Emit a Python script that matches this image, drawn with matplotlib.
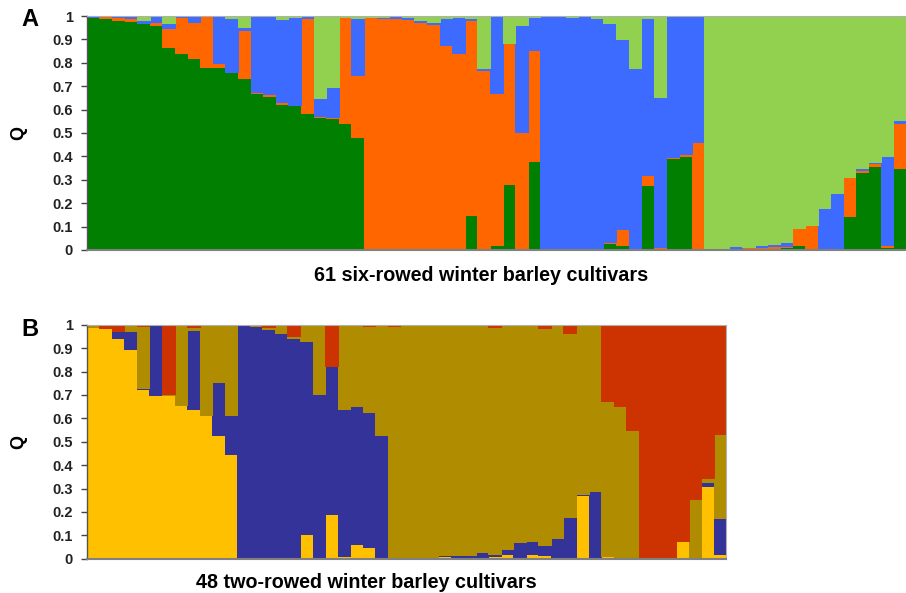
import numpy as np
import matplotlib
matplotlib.use("Agg")
import matplotlib.pyplot as plt

plt.rcParams['font.family'] = ['Liberation Sans', 'DejaVu Sans']

# ---------------- Panel A: six-rowed (K = 4) ----------------
a_green = [0.995, 0.99, 0.985, 0.977, 0.969, 0.963, 0.866, 0.843, 0.819, 0.783,
           0.781, 0.762, 0.734, 0.67, 0.658, 0.624, 0.62, 0.584, 0.567, 0.563,
           0.541, 0.481, 0.003, 0.002, 0.003, 0.003, 0.007, 0.0, 0.003, 0.0,
           0.15, 0.0, 0.021, 0.282, 0.0, 0.382, 0.0, 0.004, 0.0, 0.009,
           0.0, 0.028, 0.021, 0.0, 0.278, 0.0, 0.392, 0.402, 0.0, 0.0,
           0.006, 0.0, 0.0, 0.0, 0.0, 0.014, 0.021, 0.0, 0.0, 0.0,
           0.145, 0.332, 0.359, 0.011, 0.352]
a_orange = [0.0, 0.01, 0.01, 0.013, 0.003, 0.01, 0.081, 0.151, 0.157, 0.217,
            0.017, 0.0, 0.207, 0.007, 0.009, 0.01, 0.0, 0.406, 0.004, 0.007,
            0.453, 0.266, 0.994, 0.99, 0.988, 0.985, 0.966, 0.966, 0.873, 0.84,
            0.833, 0.769, 0.651, 0.601, 0.506, 0.473, 0.003, 0.0, 0.01, 0.0,
            0.004, 0.007, 0.067, 0.006, 0.043, 0.011, 0.005, 0.008, 0.463, 0.003,
            0.0, 0.006, 0.011, 0.014, 0.017, 0.003, 0.071, 0.107, 0.003, 0.0,
            0.168, 0.01, 0.014, 0.01, 0.192]
a_blue = [0.005, 0.0, 0.005, 0.01, 0.011, 0.025, 0.024, 0.006, 0.024, 0.0,
          0.202, 0.228, 0.014, 0.323, 0.333, 0.352, 0.375, 0.01, 0.08, 0.128,
          0.0, 0.246, 0.0, 0.005, 0.009, 0.006, 0.01, 0.007, 0.114, 0.157,
          0.008, 0.007, 0.328, 0.0, 0.456, 0.14, 0.997, 0.996, 0.987, 0.991,
          0.986, 0.933, 0.812, 0.77, 0.669, 0.642, 0.603, 0.59, 0.537, 0.0,
          0.0, 0.011, 0.003, 0.006, 0.007, 0.016, 0.0, 0.0, 0.175, 0.245,
          0.0, 0.007, 0.004, 0.38, 0.011]
a_lightgreen = [0.0, 0.0, 0.0, 0.0, 0.017, 0.002, 0.029, 0.0, 0.0, 0.0,
                0.0, 0.01, 0.045, 0.0, 0.0, 0.014, 0.005, 0.0, 0.349, 0.302,
                0.006, 0.007, 0.003, 0.003, 0.0, 0.006, 0.017, 0.027, 0.01, 0.003,
                0.009, 0.224, 0.0, 0.117, 0.038, 0.005, 0.0, 0.0, 0.003, 0.0,
                0.01, 0.032, 0.1, 0.224, 0.01, 0.347, 0.0, 0.0, 0.0, 0.997,
                0.994, 0.983, 0.986, 0.98, 0.976, 0.967, 0.908, 0.893, 0.822, 0.755,
                0.687, 0.651, 0.623, 0.599, 0.445]

# ---------------- Panel B: two-rowed (K = 4) ----------------
b_yellow = [0.989, 0.986, 0.943, 0.897, 0.724, 0.698, 0.701, 0.658, 0.641, 0.613,
            0.527, 0.447, 0.0, 0.006, 0.0, 0.0, 0.0, 0.105, 0.0, 0.191,
            0.01, 0.064, 0.048, 0.0, 0.0, 0.0, 0.0, 0.0, 0.01, 0.0,
            0.0, 0.003, 0.01, 0.02, 0.006, 0.02, 0.017, 0.006, 0.0, 0.274,
            0.0, 0.01, 0.0, 0.003, 0.0, 0.0, 0.0, 0.074, 0.0, 0.309, 0.02]
b_navy = [0.0, 0.0, 0.031, 0.077, 0.006, 0.299, 0.0, 0.0, 0.338, 0.003,
          0.226, 0.168, 0.997, 0.987, 0.98, 0.964, 0.943, 0.826, 0.704, 0.631,
          0.631, 0.587, 0.578, 0.53, 0.006, 0.003, 0.0, 0.009, 0.004, 0.014,
          0.015, 0.024, 0.01, 0.021, 0.066, 0.057, 0.043, 0.083, 0.177, 0.004,
          0.288, 0.0, 0.0, 0.0, 0.0, 0.0, 0.0, 0.0, 0.008, 0.019, 0.154]
b_olive = [0.011, 0.0, 0.0, 0.026, 0.263, 0.003, 0.003, 0.339, 0.01, 0.384,
           0.244, 0.382, 0.003, 0.007, 0.009, 0.033, 0.01, 0.066, 0.293, 0.003,
           0.356, 0.346, 0.37, 0.467, 0.99, 0.994, 0.997, 0.988, 0.983, 0.983,
           0.982, 0.97, 0.969, 0.956, 0.925, 0.92, 0.926, 0.908, 0.787, 0.719,
           0.709, 0.662, 0.651, 0.548, 0.006, 0.003, 0.009, 0.003, 0.246, 0.017, 0.359]
b_red = [0.0, 0.014, 0.026, 0.0, 0.007, 0.0, 0.296, 0.003, 0.011, 0.0,
         0.003, 0.003, 0.0, 0.0, 0.011, 0.003, 0.047, 0.003, 0.003, 0.175,
         0.003, 0.003, 0.004, 0.003, 0.004, 0.003, 0.003, 0.003, 0.003, 0.003,
         0.003, 0.003, 0.011, 0.003, 0.003, 0.003, 0.014, 0.003, 0.036, 0.003,
         0.003, 0.328, 0.349, 0.449, 0.994, 0.997, 0.991, 0.923, 0.746, 0.655, 0.467]

y_ticks = [0, 0.1, 0.2, 0.3, 0.4, 0.5, 0.6, 0.7, 0.8, 0.9, 1]
y_ticklabels = ["0", "0.1", "0.2", "0.3", "0.4", "0.5", "0.6", "0.7", "0.8", "0.9", "1"]
label_a = "61 six-rowed winter barley cultivars"
label_b = "48 two-rowed winter barley cultivars"

colors_a = ["#007F00", "#FF6600", "#3D6BFF", "#92D050"]
colors_b = ["#FFC000", "#333399", "#B08D00", "#CC3300"]

W, H = 906, 593
fig = plt.figure(figsize=(W / 100, H / 100), dpi=100)
fig.patch.set_facecolor("white")


def px_axes(l, t, r, b):
    return fig.add_axes([l / W, 1 - b / H, (r - l) / W, (b - t) / H])


def stacked(ax, series, colors):
    n = len(series[0])
    x = np.arange(n)
    bottom = np.zeros(n)
    for vals, c in zip(series, colors):
        v = np.array(vals)
        ax.bar(x, v, width=1.0, bottom=bottom, align="edge", color=c,
               edgecolor=c, linewidth=0.6, antialiased=False)
        bottom += v
    ax.set_xlim(0, n)
    ax.set_ylim(0, 1)
    ax.set_xticks([])
    ax.set_yticks(y_ticks)
    ax.set_yticklabels(y_ticklabels, fontsize=10.5, fontweight="bold", color="#222222")
    ax.tick_params(axis="y", length=4, width=1, pad=6, color="#444444")
    for s in ["top", "right"]:
        ax.spines[s].set_color("#B0B0B0")
        ax.spines[s].set_linewidth(0.8)
    ax.spines["bottom"].set_color("#808080")
    ax.spines["bottom"].set_linewidth(1.5)
    ax.spines["left"].set_color("#555555")
    ax.spines["left"].set_linewidth(1.0)


axA = px_axes(86.7, 16, 905.7, 250)
stacked(axA, [a_green, a_orange, a_blue, a_lightgreen], colors_a)
axB = px_axes(86.7, 324.7, 726.5, 558.7)
stacked(axB, [b_yellow, b_navy, b_olive, b_red], colors_b)

fig.text(30 / W, 1 - 20 / H, "A", fontsize=17, fontweight="bold", ha="center", va="center")
fig.text(30 / W, 1 - 330 / H, "B", fontsize=17, fontweight="bold", ha="center", va="center")
fig.text(19 / W, 1 - 133 / H, "Q", fontsize=13, fontweight="bold", ha="center", va="center", rotation=90)
fig.text(19 / W, 1 - 442 / H, "Q", fontsize=13, fontweight="bold", ha="center", va="center", rotation=90)
fig.text(481 / W, 1 - 275 / H, label_a, fontsize=14.2, fontweight="bold", ha="center", va="center")
fig.text(366 / W, 1 - 583 / H, label_b, fontsize=14.2, fontweight="bold", ha="center", va="center")

fig.savefig("out.png", dpi=100)
